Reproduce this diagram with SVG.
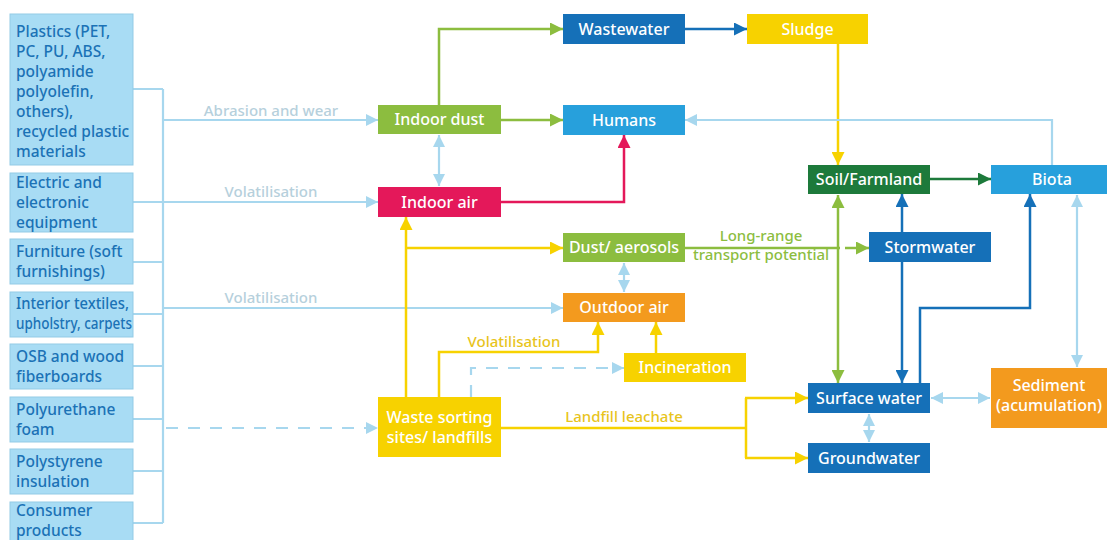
<svg xmlns="http://www.w3.org/2000/svg" width="1107" height="540" viewBox="0 0 1107 540">
  <style>
    text { font-family: "Noto Sans", "Open Sans", sans-serif; font-weight: 500; }
    .src rect { fill: #A8DCF4; stroke: #93CBE6; stroke-width: 1; }
    .src text { fill: #1B72B6; font-size: 15.5px; }
    .node text { fill: #FFFFFF; font-size: 16px; text-anchor: middle; }
    .lbl { font-size: 15px; text-anchor: middle; }
    .c-lb { fill: none; stroke: #A7D7EE; stroke-width: 2.2; }
    .c-gr { fill: none; stroke: #8CBD3F; stroke-width: 2.5; }
    .c-dg { fill: none; stroke: #1D7A3B; stroke-width: 2.5; }
    .c-db { fill: none; stroke: #1570B8; stroke-width: 2.5; }
    .c-ye { fill: none; stroke: #F7D200; stroke-width: 2.5; }
    .c-cr { fill: none; stroke: #E4185A; stroke-width: 2.5; }
    .dash { stroke-dasharray: 12 10; }
  </style>
  <defs>
    <marker id="ah-lb" viewBox="0 0 12 12" refX="12" refY="6" markerWidth="12" markerHeight="12" markerUnits="userSpaceOnUse" orient="auto-start-reverse"><path d="M0,0 L12,6 L0,12 z" fill="#A7D7EE"/></marker>
    <marker id="ah-gr" viewBox="0 0 13 13" refX="13" refY="6.5" markerWidth="13" markerHeight="13" markerUnits="userSpaceOnUse" orient="auto-start-reverse"><path d="M0,0 L13,6.5 L0,13 z" fill="#8CBD3F"/></marker>
    <marker id="ah-dg" viewBox="0 0 13 13" refX="13" refY="6.5" markerWidth="13" markerHeight="13" markerUnits="userSpaceOnUse" orient="auto-start-reverse"><path d="M0,0 L13,6.5 L0,13 z" fill="#1D7A3B"/></marker>
    <marker id="ah-db" viewBox="0 0 13 13" refX="13" refY="6.5" markerWidth="13" markerHeight="13" markerUnits="userSpaceOnUse" orient="auto-start-reverse"><path d="M0,0 L13,6.5 L0,13 z" fill="#1570B8"/></marker>
    <marker id="ah-ye" viewBox="0 0 13 13" refX="13" refY="6.5" markerWidth="13" markerHeight="13" markerUnits="userSpaceOnUse" orient="auto-start-reverse"><path d="M0,0 L13,6.5 L0,13 z" fill="#F7D200"/></marker>
    <marker id="ah-cr" viewBox="0 0 13 13" refX="13" refY="6.5" markerWidth="13" markerHeight="13" markerUnits="userSpaceOnUse" orient="auto-start-reverse"><path d="M0,0 L13,6.5 L0,13 z" fill="#E4185A"/></marker>
  </defs>

  <rect width="1107" height="540" fill="#FFFFFF"/>

  <!-- connectors -->
  <g id="connectors">
    <!-- source bus -->
    <path class="c-lb" d="M133,89 H163 M133,202 H163 M133,262 H163 M133,314 H163 M133,366 H163 M133,419 H163 M133,471 H163 M133,523 H163 M163,89 V523"/>
    <path class="c-lb" d="M163,120 H378" marker-end="url(#ah-lb)"/>
    <path class="c-lb" d="M163,202 H378" marker-end="url(#ah-lb)"/>
    <path class="c-lb" d="M163,308 H563" marker-end="url(#ah-lb)"/>
    <path class="c-lb dash" d="M166,428 H378" marker-end="url(#ah-lb)"/>

    <!-- indoor dust -->
    <path class="c-gr" d="M439,105 V29 H563" marker-end="url(#ah-gr)"/>
    <path class="c-gr" d="M501,120 H563" marker-end="url(#ah-gr)"/>
    <path class="c-lb" d="M439,135 V186" marker-start="url(#ah-lb)" marker-end="url(#ah-lb)"/>

    <!-- indoor air to humans -->
    <path class="c-cr" d="M501,202 H624 V135" marker-end="url(#ah-cr)"/>

    <!-- wastewater to sludge to soil -->
    <path class="c-db" d="M685,29 H747" marker-end="url(#ah-db)"/>
    <path class="c-ye" d="M838,44 V165" marker-end="url(#ah-ye)"/>

    <!-- biota to humans -->
    <path class="c-lb" d="M1052,165 V120 H685" marker-end="url(#ah-lb)"/>

    <!-- soil to biota -->
    <path class="c-dg" d="M930,179 H991" marker-end="url(#ah-dg)"/>

    <!-- waste sorting sites -->
    <path class="c-ye" d="M406,397 V217" marker-end="url(#ah-ye)"/>
    <path class="c-ye" d="M406,248 H563" marker-end="url(#ah-ye)"/>
    <path class="c-ye" d="M439,397 V352 H598 V322" marker-end="url(#ah-ye)"/>
    <path class="c-ye" d="M656,353 V322" marker-end="url(#ah-ye)"/>
    <path class="c-lb dash" d="M471,397 V368 H624" marker-end="url(#ah-lb)"/>
    <path class="c-ye" d="M501,428 H746 M746,398 V458"/>
    <path class="c-ye" d="M745,398 H808" marker-end="url(#ah-ye)"/>
    <path class="c-ye" d="M745,458 H808" marker-end="url(#ah-ye)"/>

    <!-- dust/aerosols -->
    <path class="c-lb" d="M624,263 V292" marker-start="url(#ah-lb)" marker-end="url(#ah-lb)"/>
    <path class="c-gr" d="M685,248 H840"/>
    <path class="c-gr" d="M845,248 H856"/>
    <path class="c-gr" d="M857,248 H869" marker-end="url(#ah-gr)"/>

    <!-- soil / stormwater / surface water -->
    <path class="c-gr" d="M838,195 V383" marker-start="url(#ah-gr)" marker-end="url(#ah-gr)"/>
    <path class="c-db" d="M902,232 V194" marker-end="url(#ah-db)"/>
    <path class="c-db" d="M902,262 V383" marker-end="url(#ah-db)"/>
    <path class="c-db" d="M920,383 V308 H1030 V194" marker-end="url(#ah-db)"/>

    <!-- biota / sediment / groundwater -->
    <path class="c-lb" d="M1077,195 V367" marker-start="url(#ah-lb)" marker-end="url(#ah-lb)"/>
    <path class="c-lb" d="M931,398 H990" marker-start="url(#ah-lb)" marker-end="url(#ah-lb)"/>
    <path class="c-lb" d="M869,414 V442" marker-start="url(#ah-lb)" marker-end="url(#ah-lb)"/>

    <!-- connector labels -->
    <text class="lbl" x="271" y="116" fill="#B6D0DC">Abrasion and wear</text>
    <text class="lbl" x="271" y="197" fill="#B6D0DC">Volatilisation</text>
    <text class="lbl" x="271" y="303" fill="#B6D0DC">Volatilisation</text>
    <text class="lbl" x="514" y="347" fill="#E8C41C">Volatilisation</text>
    <text class="lbl" x="624" y="422" fill="#E8C41C">Landfill leachate</text>
    <text class="lbl" x="761" y="241" fill="#8CBD3F">Long-range</text>
    <text class="lbl" x="761" y="260" fill="#8CBD3F">transport potential</text>
  </g>

  <!-- source categories -->
  <g id="src-plastics" class="src">
    <rect x="10" y="14" width="123" height="151"/>
    <text x="16" y="37">Plastics (PET,</text>
    <text x="16" y="57">PC, PU, ABS,</text>
    <text x="16" y="77">polyamide</text>
    <text x="16" y="97">polyolefin,</text>
    <text x="16" y="117">others),</text>
    <text x="16" y="137">recycled plastic</text>
    <text x="16" y="157">materials</text>
  </g>
  <g id="src-electric" class="src">
    <rect x="10" y="173" width="123" height="59"/>
    <text x="16" y="188">Electric and</text>
    <text x="16" y="208">electronic</text>
    <text x="16" y="228">equipment</text>
  </g>
  <g id="src-furniture" class="src">
    <rect x="10" y="239" width="123" height="45"/>
    <text x="16" y="257">Furniture (soft</text>
    <text x="16" y="277">furnishings)</text>
  </g>
  <g id="src-textiles" class="src">
    <rect x="10" y="292" width="123" height="45"/>
    <text x="16" y="309" textLength="113" lengthAdjust="spacingAndGlyphs">Interior textiles,</text>
    <text x="16" y="329" textLength="116" lengthAdjust="spacingAndGlyphs">upholstry, carpets</text>
  </g>
  <g id="src-osb" class="src">
    <rect x="10" y="344" width="123" height="45"/>
    <text x="16" y="362">OSB and wood</text>
    <text x="16" y="382">fiberboards</text>
  </g>
  <g id="src-pu-foam" class="src">
    <rect x="10" y="397" width="123" height="45"/>
    <text x="16" y="415">Polyurethane</text>
    <text x="16" y="435">foam</text>
  </g>
  <g id="src-ps-insulation" class="src">
    <rect x="10" y="449" width="123" height="45"/>
    <text x="16" y="467">Polystyrene</text>
    <text x="16" y="487">insulation</text>
  </g>
  <g id="src-consumer" class="src">
    <rect x="10" y="502" width="123" height="45"/>
    <text x="16" y="516">Consumer</text>
    <text x="16" y="536">products</text>
  </g>

  <!-- compartments -->
  <g id="indoor-dust" class="node">
    <rect x="378" y="105" width="123" height="29" fill="#8CBD3F"/>
    <text x="439.5" y="125">Indoor dust</text>
  </g>
  <g id="wastewater" class="node">
    <rect x="563" y="14" width="122" height="30" fill="#1570B8"/>
    <text x="624" y="35">Wastewater</text>
  </g>
  <g id="humans" class="node">
    <rect x="563" y="105" width="122" height="30" fill="#27A0DC"/>
    <text x="624" y="126">Humans</text>
  </g>
  <g id="sludge" class="node">
    <rect x="747" y="14" width="121" height="30" fill="#F7D200"/>
    <text x="807.5" y="35">Sludge</text>
  </g>
  <g id="indoor-air" class="node">
    <rect x="378" y="187" width="123" height="30" fill="#E4185A"/>
    <text x="439.5" y="208">Indoor air</text>
  </g>
  <g id="dust-aerosols" class="node">
    <rect x="563" y="233" width="122" height="29" fill="#8CBD3F"/>
    <text x="624" y="253">Dust/ aerosols</text>
  </g>
  <g id="outdoor-air" class="node">
    <rect x="563" y="293" width="122" height="29" fill="#F39A1E"/>
    <text x="624" y="313">Outdoor air</text>
  </g>
  <g id="incineration" class="node">
    <rect x="624" y="353" width="122" height="29" fill="#F7D200"/>
    <text x="685" y="373">Incineration</text>
  </g>
  <g id="waste-sorting" class="node">
    <rect x="378" y="397" width="123" height="60" fill="#F7D200"/>
    <text x="439.5" y="423">Waste sorting</text>
    <text x="439.5" y="443">sites/ landfills</text>
  </g>
  <g id="soil-farmland" class="node">
    <rect x="808" y="165" width="122" height="29" fill="#1D7A3B"/>
    <text x="869" y="185">Soil/Farmland</text>
  </g>
  <g id="biota" class="node">
    <rect x="991" y="165" width="116" height="29" fill="#27A0DC"/>
    <text x="1052" y="185">Biota</text>
  </g>
  <g id="stormwater" class="node">
    <rect x="869" y="232" width="122" height="30" fill="#1570B8"/>
    <text x="930" y="253">Stormwater</text>
  </g>
  <g id="surface-water" class="node">
    <rect x="808" y="383" width="122" height="30" fill="#1570B8"/>
    <text x="869" y="404">Surface water</text>
  </g>
  <g id="groundwater" class="node">
    <rect x="808" y="443" width="122" height="30" fill="#1570B8"/>
    <text x="869" y="464">Groundwater</text>
  </g>
  <g id="sediment" class="node">
    <rect x="991" y="368" width="116" height="60" fill="#F39A1E"/>
    <text x="1049" y="391">Sediment</text>
    <text x="1049" y="411">(acumulation)</text>
  </g>
</svg>
